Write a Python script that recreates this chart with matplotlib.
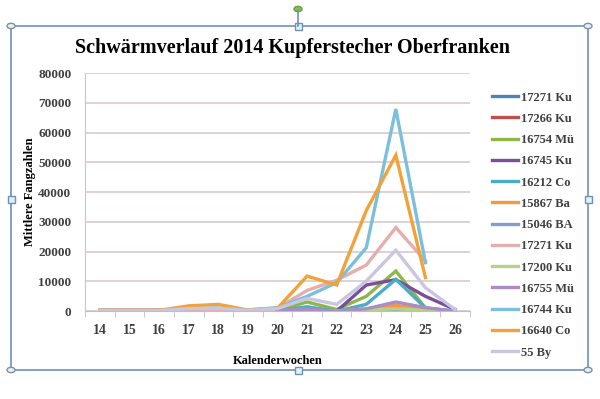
import numpy as np
import matplotlib.pyplot as plt
from matplotlib.patches import Rectangle, Circle
from matplotlib.lines import Line2D

plt.rcParams['font.family'] = ['Liberation Serif', 'DejaVu Serif']

nan = np.nan
wochen = [14, 15, 16, 17, 18, 19, 20, 21, 22, 23, 24, 25, 26]

namen = ["17271 Ku", "17266 Ku", "16754 Mü", "16745 Ku", "16212 Co", "15867 Ba",
         "15046 BA", "17271 Ku", "17200 Ku", "16755 Mü", "16744 Ku", "16640 Co", "55 By"]

farben = ["#4F81BD", "#C0504D", "#8DB849", "#7A4E9A", "#4BACC6", "#F79646",
          "#7F9FCF", "#E3AFAD", "#B7D08A", "#A98DC4", "#7CBFDD", "#F2A23A", "#C9C6E0"]

# Fangzahlen je Kalenderwoche (aus dem Bild geschätzt)
werte = [
    [nan, nan, nan, nan, nan, nan, 100, 200, 0, 300, 500, 200, 0],
    [nan, nan, nan, nan, nan, nan, 100, 300, 0, 400, 800, 300, 0],
    [nan, nan, nan, nan, nan, nan, 300, 3100, 600, 5000, 13500, 1100, 0],
    [nan, nan, nan, nan, nan, nan, 0, 500, 0, 8800, 10600, 5000, 600],
    [nan, nan, nan, nan, nan, nan, 200, 1500, 0, 2300, 10700, 1100, 0],
    [nan, nan, nan, nan, nan, nan, 200, 300, 0, 800, 2000, 500, 0],
    [nan, nan, nan, nan, nan, nan, 100, 200, 0, 300, 600, 200, 0],
    [500, 500, 500, 600, 700, 500, 1000, 7000, 10400, 15500, 28100, 16900, nan],
    [nan, nan, nan, nan, nan, nan, 100, 300, 0, 500, 800, 300, 0],
    [nan, nan, nan, nan, nan, nan, 200, 700, 0, 800, 3100, 1200, 0],
    [300, 300, 300, 1000, 1100, 400, 1200, 5000, 9600, 21300, 67900, 16300, nan],
    [300, 300, 300, 1800, 2300, 400, 1000, 11800, 8800, 33800, 52400, 11300, nan],
    [200, 200, 200, 900, 1000, 300, 900, 4300, 2300, 10100, 20500, 7900, 600],
]

fig = plt.figure(figsize=(6, 3.99), dpi=100)
ax = fig.add_axes([0.142, 0.22, 0.641, 0.597])

x = np.arange(len(wochen))
handles = []
for name, farbe, w in zip(namen, farben, werte):
    ln, = ax.plot(x, w, color=farbe, lw=2.4, solid_joinstyle='miter', label=name)
    handles.append(ln)

ax.set_xlim(-0.5, len(wochen) - 0.5)
ax.set_ylim(0, 80000)
ax.set_yticks(np.arange(0, 80001, 10000))
ax.set_xticks(x)
ax.set_xticklabels([str(k) for k in wochen])
ax.set_xticks(np.arange(-0.5, len(wochen), 1), minor=True)
ax.tick_params(axis='x', which='major', length=0, pad=9, labelsize=10, labelcolor='#404040')
ax.tick_params(axis='x', which='minor', length=4, color='#BFBFBF', direction='out')
ax.tick_params(axis='y', length=0, pad=10, labelsize=9.5, labelcolor='#404040')
for lbl in ax.get_xticklabels() + ax.get_yticklabels():
    lbl.set_fontweight('bold')

ax.grid(axis='y', color='#D9CFCF', lw=1.3)
ax.set_axisbelow(True)
for s in ['top', 'right']:
    ax.spines[s].set_visible(False)
ax.spines['left'].set_color('#D0C4C4')
ax.spines['bottom'].set_color('#BFBFBF')

ax.set_xlabel("Kalenderwochen", fontsize=9, fontweight='bold')
ax.xaxis.set_label_coords(0.5, -0.183)
ax.set_ylabel("Mittlere Fangzahlen", fontsize=9, fontweight='bold')
ax.yaxis.set_label_coords(-0.128, 0.5)

fig.text(0.487, 0.88, "Schwärmverlauf 2014 Kupferstecher Oberfranken",
         ha='center', va='center', fontsize=14.5, fontweight='bold')

leg = fig.legend(handles=handles, loc='upper left', bbox_to_anchor=(0.812, 0.783),
                 frameon=False, fontsize=9, handlelength=2.1, handletextpad=0.2,
                 labelspacing=0.74, borderaxespad=0)
for t in leg.get_texts():
    t.set_color('#404040')
    t.set_fontweight('bold')

# Auswahlrahmen mit Anfassern
rc = '#7090B8'
W, H = 600, 399
x0, y0, x1, y1 = 11, 26, 588, 370
fig.add_artist(Rectangle((x0 / W, 1 - y1 / H), (x1 - x0) / W, (y1 - y0) / H,
                         transform=fig.transFigure, fill=False, ec=rc, lw=1.2))
fig.add_artist(Line2D([298 / W, 298 / W], [1 - 10 / H, 1 - y0 / H],
                      transform=fig.transFigure, color=rc, lw=1.2))
for px, py in [(x0, y0), (x1, y0), (x0, y1), (x1, y1)]:
    fig.add_artist(Circle((px / W, 1 - py / H), 4 / W, transform=fig.transFigure,
                          fc='#E0F2F6', ec='#8090A0', lw=1))
for px, py in [(298, y0), (298, y1), (x0, 199), (x1, 199)]:
    fig.add_artist(Rectangle(((px - 3.5) / W, 1 - (py + 3.5) / H), 7 / W, 7 / H,
                             transform=fig.transFigure, fc='#E0F2F6', ec=rc, lw=1))
fig.add_artist(Circle((298 / W, 1 - 9 / H), 4 / W, transform=fig.transFigure,
                      fc='#7CCB3A', ec='#6A9A50', lw=1))

fig.savefig("out.png", dpi=100)
